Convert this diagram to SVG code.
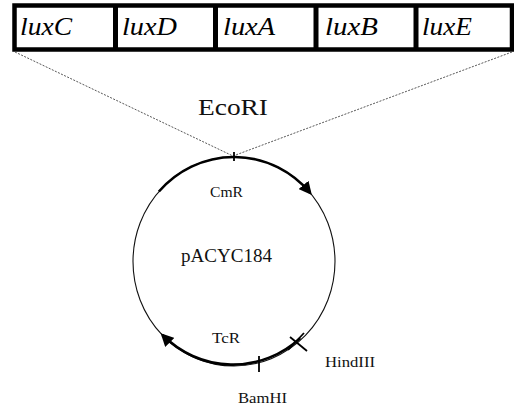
<svg xmlns="http://www.w3.org/2000/svg" width="514" height="410" viewBox="0 0 514 410">
  <style>
    .gene { font-family: "Liberation Serif", "DejaVu Serif", serif; font-style: italic; font-size: 25px; fill: #000; }
    .lbl { font-family: "Liberation Serif", "DejaVu Serif", serif; fill: #111; }
    .plasmid { fill: none; stroke: #111; stroke-width: 1.1; }
    .marker-arc { fill: none; stroke: #000; stroke-width: 2.6; }
    .site { stroke: #000; stroke-width: 1.8; fill: none; }
    .guide { stroke: #444; stroke-width: 0.9; stroke-dasharray: 2 1.4; fill: none; }
  </style>
  <defs>
    <marker id="head" viewBox="0 0 10 10" refX="8" refY="5" markerWidth="5" markerHeight="5" orient="auto" markerUnits="strokeWidth">
      <path d="M0,0 L10,5 L0,10 Z" fill="#000"/>
    </marker>
  </defs>
  <rect width="514" height="410" fill="#fff"/>

  <!-- lux operon insert -->
  <g id="operon">
    <rect x="14.5" y="5.5" width="497.5" height="44" fill="#fff" stroke="#000" stroke-width="4.5"/>
    <g stroke="#000" stroke-width="5">
      <line x1="115.5" y1="5" x2="115.5" y2="50"/>
      <line x1="215.5" y1="5" x2="215.5" y2="50"/>
      <line x1="316" y1="5" x2="316" y2="50"/>
      <line x1="416" y1="5" x2="416" y2="50"/>
    </g>
    <g id="luxC"><text class="gene" x="20" y="35" textLength="52" lengthAdjust="spacingAndGlyphs">luxC</text></g>
    <g id="luxD"><text class="gene" x="122" y="35" textLength="55" lengthAdjust="spacingAndGlyphs">luxD</text></g>
    <g id="luxA"><text class="gene" x="223" y="35" textLength="52" lengthAdjust="spacingAndGlyphs">luxA</text></g>
    <g id="luxB"><text class="gene" x="325" y="35" textLength="53" lengthAdjust="spacingAndGlyphs">luxB</text></g>
    <g id="luxE"><text class="gene" x="422" y="35" textLength="50" lengthAdjust="spacingAndGlyphs">luxE</text></g>
  </g>

  <!-- insertion guides -->
  <g id="connectors">
    <line class="guide" x1="15" y1="52" x2="233" y2="156"/>
    <line class="guide" x1="512" y1="52" x2="233" y2="156"/>
  </g>

  <g id="ecori">
    <text class="lbl" x="198" y="115" font-size="23" textLength="70" lengthAdjust="spacingAndGlyphs">EcoRI</text>
    <line class="site" x1="234" y1="152" x2="234" y2="161"/>
  </g>

  <!-- pACYC184 vector -->
  <g id="plasmid">
    <ellipse class="plasmid" cx="234" cy="261.5" rx="101" ry="104.5"/>
    <text class="lbl" x="181" y="262" font-size="18" textLength="91" lengthAdjust="spacingAndGlyphs">pACYC184</text>
  </g>

  <g id="cmr">
    <path class="marker-arc" d="M158.9,191.5 A101,104.5 0 0 1 310.2,192.9" marker-end="url(#head)"/>
    <text class="lbl" x="210" y="197" font-size="15" textLength="33" lengthAdjust="spacingAndGlyphs">CmR</text>
  </g>

  <g id="tcr">
    <path class="marker-arc" d="M300.2,338.1 A101,104.5 0 0 1 162.5,335" marker-end="url(#head)"/>
    <text class="lbl" x="212" y="343" font-size="15" textLength="28" lengthAdjust="spacingAndGlyphs">TcR</text>
  </g>

  <g id="hindiii">
    <line class="site" x1="290" y1="337" x2="307" y2="351"/>
    <line class="site" x1="304" y1="333" x2="288" y2="350"/>
    <text class="lbl" x="325" y="367" font-size="14" textLength="50" lengthAdjust="spacingAndGlyphs">HindIII</text>
  </g>

  <g id="bamhi">
    <line class="site" x1="259" y1="356" x2="259" y2="372"/>
    <text class="lbl" x="238" y="403" font-size="14" textLength="49" lengthAdjust="spacingAndGlyphs">BamHI</text>
  </g>
</svg>
